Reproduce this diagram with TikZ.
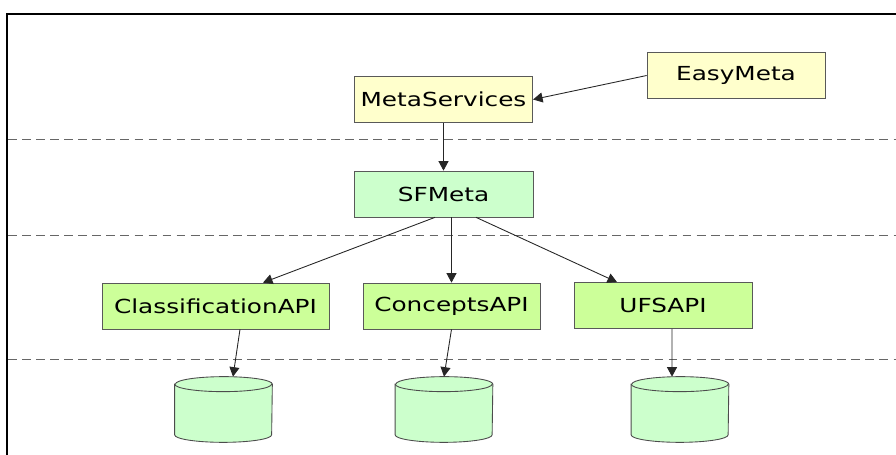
\documentclass[tikz,border=0pt]{standalone}
\usepackage{fontspec}
\setsansfont{DejaVu Sans}[FakeStretch=1.28]
\usepackage{xcolor}
\usetikzlibrary{arrows.meta,positioning,calc}

\definecolor{metayellow}{HTML}{FFFFCC}
\definecolor{sfgreen}{HTML}{CCFFCC}
\definecolor{apigreen}{HTML}{CCFF99}

% cylinder drawn round a named store node
\newcommand{\drawstore}[1]{%
  \draw[draw=black!70, fill=sfgreen, line width=0.5pt]
    ([yshift=-0.15cm]#1.north west) -- ([yshift=0.15cm]#1.south west)
    arc[start angle=180, end angle=360, x radius=0.97cm, y radius=0.15cm]
    -- ([yshift=-0.15cm]#1.north east)
    arc[start angle=0, end angle=180, x radius=0.97cm, y radius=0.15cm] -- cycle;
  \draw[black!70, line width=0.5pt] ([yshift=-0.15cm]#1.north west)
    arc[start angle=180, end angle=360, x radius=0.97cm, y radius=0.15cm];
}

\begin{document}
\begin{tikzpicture}[
    x=0.02cm, y=-0.02cm,
    font=\sffamily\fontsize{11}{13}\selectfont,
    box/.style={rectangle, draw=black!65, minimum height=0.92cm, inner sep=0pt},
    metabox/.style={box, fill=metayellow, minimum width=3.57cm},
    sfbox/.style={box, fill=sfgreen, minimum width=3.58cm},
    apibox/.style={box, fill=apigreen, minimum width=3.56cm},
    store/.style={rectangle, minimum width=1.94cm, minimum height=1.3cm, inner sep=0pt},
    arrow/.style={-{Triangle[length=1.9mm,width=2mm]}, line width=0.5pt, black!85},
    layer/.style={dashed, dash pattern=on 5pt off 3pt, black!60, line width=0.5pt}
]
\useasboundingbox (0,0) rectangle (896,455);

% Frame
\draw[line width=1.2pt] (7,455) -- (7,14) -- (896,14);

% Layer separators
\draw[layer] (8,139) -- (896,139);
\draw[layer] (8,235) -- (896,235);
\draw[layer] (8,359) -- (896,359);

% Top layer
\node[metabox] (metaservices) at (443.5,99.5) {MetaServices};
\node[metabox, minimum width=3.56cm] (easymeta) at (736,75.5) {EasyMeta};

% Middle layer
\node[sfbox] (sfmeta) at (443.5,194) {SFMeta};

% API layer
\node[apibox, minimum width=4.54cm] (classapi) at (215.5,306) {ClassificationAPI};
\node[apibox, minimum width=3.54cm] (conceptsapi) at (451.5,306) {ConceptsAPI};
\node[apibox] (ufsapi) at (663,305.5) {UFSAPI};

% Stores
\node[store] (classdb) at (223.5,409.5) {};
\node[store] (conceptsdb) at (444,409.5) {};
\node[store] (ufsdb) at (680,409.5) {};
\drawstore{classdb}
\drawstore{conceptsdb}
\drawstore{ufsdb}

% Connections
\draw[arrow] (easymeta.west) -- (metaservices.east);
\draw[arrow] (metaservices.south) -- (sfmeta.north);
\draw[arrow] ([xshift=-0.17cm]sfmeta.south) -- ([xshift=0.95cm]classapi.north);
\draw[arrow] (sfmeta.south -| conceptsapi.north) -- (conceptsapi.north);
\draw[arrow] ([xshift=0.65cm]sfmeta.south) -- ([xshift=-0.92cm]ufsapi.north);
\draw[arrow] ([xshift=0.49cm]classapi.south) -- ([xshift=0.19cm]classdb.north);
\draw[arrow] (conceptsapi.south) -- (conceptsdb.north);
\draw[arrow] ([xshift=0.18cm]ufsapi.south) -- ([xshift=-0.16cm]ufsdb.north);

\end{tikzpicture}
\end{document}
